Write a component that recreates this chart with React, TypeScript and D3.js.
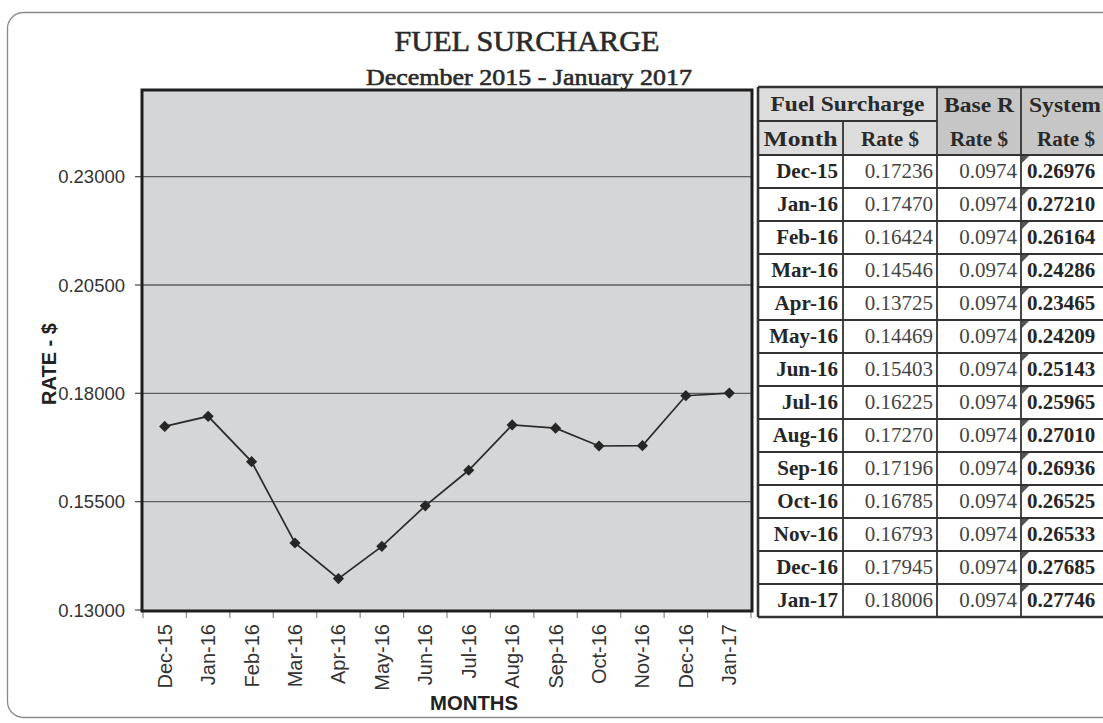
import React, { useEffect, useRef } from "react";
import * as d3 from "d3";

const months = ["Dec-15", "Jan-16", "Feb-16", "Mar-16", "Apr-16", "May-16", "Jun-16", "Jul-16", "Aug-16", "Sep-16", "Oct-16", "Nov-16", "Dec-16", "Jan-17"];
const fuelRate = [0.17236, 0.1747, 0.16424, 0.14546, 0.13725, 0.14469, 0.15403, 0.16225, 0.1727, 0.17196, 0.16785, 0.16793, 0.17945, 0.18006];
const baseRate = [0.0974, 0.0974, 0.0974, 0.0974, 0.0974, 0.0974, 0.0974, 0.0974, 0.0974, 0.0974, 0.0974, 0.0974, 0.0974, 0.0974];
const systemRate = [0.26976, 0.2721, 0.26164, 0.24286, 0.23465, 0.24209, 0.25143, 0.25965, 0.2701, 0.26936, 0.26525, 0.26533, 0.27685, 0.27746];
const yTicks = [0.13, 0.155, 0.18, 0.205, 0.23];

const SANS = "'Liberation Sans', Arial, sans-serif";
const SERIF = "'Liberation Serif', 'Times New Roman', serif";

const App = () => {
  const ref = useRef<SVGSVGElement>(null);

  useEffect(() => {
    document.body.style.margin = "0";
    const svg = d3.select(ref.current);
    svg.selectAll("*").remove();

    // card
    svg.append("rect")
      .attr("x", 7.5).attr("y", 12.5).attr("width", 1120).attr("height", 705)
      .attr("rx", 16).attr("fill", "#fff").attr("stroke", "#8a8a8a").attr("stroke-width", 1.3);

    // titles
    svg.append("text").attr("x", 527).attr("y", 51).attr("text-anchor", "middle")
      .attr("textLength", 265).attr("lengthAdjust", "spacingAndGlyphs")
      .style("font-family", SERIF).style("font-size", "30px").attr("fill", "#2a2a2a")
      .attr("stroke", "#2a2a2a").attr("stroke-width", 0.6)
      .text("FUEL SURCHARGE");
    svg.append("text").attr("x", 529).attr("y", 85).attr("text-anchor", "middle")
      .attr("textLength", 326).attr("lengthAdjust", "spacingAndGlyphs")
      .style("font-family", SERIF).style("font-size", "23px").attr("fill", "#2a2a2a")
      .attr("stroke", "#2a2a2a").attr("stroke-width", 0.6)
      .text("December 2015 - January 2017");

    // plot
    const left = 142, right = 752, top = 90, bottom = 611;
    const x = d3.scaleBand().domain(months).range([left + 1, right - 1]);
    const y = d3.scaleLinear().domain([0.13, 0.25]).range([bottom - 1, top]);

    svg.append("rect").attr("x", left).attr("y", top).attr("width", right - left).attr("height", bottom - top)
      .attr("fill", "#d5d6d8");

    svg.append("g").selectAll("line").data(yTicks.slice(1)).enter().append("line")
      .attr("x1", left).attr("x2", right).attr("y1", (d) => y(d)).attr("y2", (d) => y(d))
      .attr("stroke", "#5e5e5e").attr("stroke-width", 1.4);

    // y ticks + labels
    const yg = svg.append("g");
    yg.selectAll("line").data(yTicks).enter().append("line")
      .attr("x1", left - 7).attr("x2", left).attr("y1", (d) => y(d)).attr("y2", (d) => y(d))
      .attr("stroke", "#555").attr("stroke-width", 1.3);
    yg.selectAll("text").data(yTicks).enter().append("text")
      .attr("x", 125).attr("y", (d) => y(d)).attr("dy", "0.36em").attr("text-anchor", "end")
      .style("font-family", SANS).style("font-size", "18.5px").attr("fill", "#333")
      .text((d) => d3.format(".5f")(d));

    // x ticks + labels
    const step = x.step();
    const xg = svg.append("g");
    xg.selectAll("line").data(d3.range(months.length + 1)).enter().append("line")
      .attr("x1", (i) => left + 1 + i * step).attr("x2", (i) => left + 1 + i * step)
      .attr("y1", bottom).attr("y2", bottom + 7)
      .attr("stroke", "#888").attr("stroke-width", 1.2);
    xg.selectAll("text").data(months).enter().append("text")
      .attr("transform", (d) => `translate(${(x(d) as number) + x.bandwidth() / 2},624) rotate(-90)`)
      .attr("dy", "0.35em").attr("text-anchor", "end")
      .style("font-family", SANS).style("font-size", "20px").attr("fill", "#333")
      .text((d) => d);

    // line + markers
    const pts = months.map((m, i) => [(x(m) as number) + x.bandwidth() / 2, y(fuelRate[i])] as [number, number]);
    svg.append("path").attr("d", d3.line()(pts)).attr("fill", "none")
      .attr("stroke", "#2b2b2b").attr("stroke-width", 1.7);
    svg.append("g").selectAll("path").data(pts).enter().append("path")
      .attr("transform", (d) => `translate(${d[0]},${d[1]})`)
      .attr("d", d3.symbol().type(d3.symbolDiamond2).size(80)())
      .attr("fill", "#262626");

    // plot frame
    svg.append("rect").attr("x", left).attr("y", top).attr("width", right - left).attr("height", bottom - top)
      .attr("fill", "none").attr("stroke", "#1e1e1e").attr("stroke-width", 3);

    // axis titles
    svg.append("text").attr("transform", "translate(49,364) rotate(-90)").attr("text-anchor", "middle")
      .attr("dy", "0.35em")
      .style("font-family", SANS).style("font-size", "20px").style("font-weight", "bold").attr("fill", "#222")
      .text("RATE - $");
    svg.append("text").attr("x", 474).attr("y", 710).attr("text-anchor", "middle")
      .attr("textLength", 88).attr("lengthAdjust", "spacingAndGlyphs")
      .style("font-family", SANS).style("font-size", "21px").style("font-weight", "bold").attr("fill", "#222")
      .text("MONTHS");

    // table
    const cols = [758, 843, 937, 1021, 1112];
    const rowTop = 155, rowH = 33, h1 = 87, h2 = 121;
    const tg = svg.append("g").style("font-family", SERIF);

    tg.append("rect").attr("x", cols[0]).attr("y", h1).attr("width", cols[2] - cols[0]).attr("height", rowTop - h1).attr("fill", "#dcdcdc");
    tg.append("rect").attr("x", cols[2]).attr("y", h1).attr("width", cols[4] - cols[2]).attr("height", rowTop - h1).attr("fill", "#c6c6c6");

    const rows = tg.selectAll("g.row").data(months).enter().append("g")
      .attr("transform", (_, i) => `translate(0,${rowTop + i * rowH})`);
    rows.append("text").attr("x", cols[1] - 5).attr("y", 23).attr("text-anchor", "end")
      .style("font-size", "21px").style("font-weight", "bold").attr("fill", "#262626").text((d) => d);
    rows.append("text").attr("x", cols[2] - 4).attr("y", 23).attr("text-anchor", "end")
      .style("font-size", "21px").attr("fill", "#444").text((_, i) => d3.format(".5f")(fuelRate[i]));
    rows.append("text").attr("x", cols[3] - 4).attr("y", 23).attr("text-anchor", "end")
      .style("font-size", "21px").attr("fill", "#444").text((_, i) => d3.format(".4f")(baseRate[i]));
    rows.append("text").attr("x", cols[3] + 6).attr("y", 23)
      .style("font-size", "21px").style("font-weight", "bold").attr("fill", "#262626").text((_, i) => d3.format(".5f")(systemRate[i]));
    rows.append("path").attr("d", `M${cols[3] + 1},1 l7,0 l-7,7 z`).attr("fill", "#555");

    // table header text
    const hdr = [
      { t: "Fuel Surcharge", x: (cols[0] + cols[2]) / 2, y: h1 + 24, w: 154 },
      { t: "Month", x: (cols[0] + cols[1]) / 2, y: h2 + 25, w: 74 },
      { t: "Rate $", x: (cols[1] + cols[2]) / 2, y: h2 + 25, w: 58 },
      { t: "Base R", x: (cols[2] + cols[3]) / 2, y: h1 + 25, w: 70 },
      { t: "Rate $", x: (cols[2] + cols[3]) / 2, y: h2 + 25, w: 58 },
      { t: "System", x: 1065, y: h1 + 25, w: 72 },
      { t: "Rate $", x: 1066, y: h2 + 25, w: 58 },
    ];
    tg.selectAll("text.h").data(hdr).enter().append("text").attr("class", "h")
      .attr("x", (d) => d.x).attr("y", (d) => d.y).attr("text-anchor", "middle")
      .attr("textLength", (d) => d.w).attr("lengthAdjust", "spacingAndGlyphs")
      .style("font-size", "20px").style("font-weight", "bold").attr("fill", "#2a2a2a").text((d) => d.t);

    // table grid
    const lineC = "#333";
    const hl = [h1, h2, ...d3.range(months.length + 1).map((i) => rowTop + i * rowH)];
    tg.selectAll("line.h").data(hl).enter().append("line").attr("class", "h")
      .attr("x1", cols[0]).attr("x2", (d) => (d === h2 ? cols[2] : cols[4]))
      .attr("y1", (d) => d).attr("y2", (d) => d)
      .attr("stroke", lineC).attr("stroke-width", (d, i) => (i === 0 || i === hl.length - 1 ? 2.6 : 1.8));
    const vl = [
      { x: cols[0], y1: h1 }, { x: cols[1], y1: h2 }, { x: cols[2], y1: h1 }, { x: cols[3], y1: h1 },
    ];
    tg.selectAll("line.v").data(vl).enter().append("line").attr("class", "v")
      .attr("x1", (d) => d.x).attr("x2", (d) => d.x).attr("y1", (d) => d.y1).attr("y2", rowTop + months.length * rowH)
      .attr("stroke", lineC).attr("stroke-width", (d, i) => (i === 0 ? 2.6 : 1.8));
  }, []);

  return (
    <div style={{ position: "absolute", left: 0, top: 0 }}>
      <svg ref={ref} width={1103} height={723} style={{ display: "block" }} />
    </div>
  );
};

export default App;
